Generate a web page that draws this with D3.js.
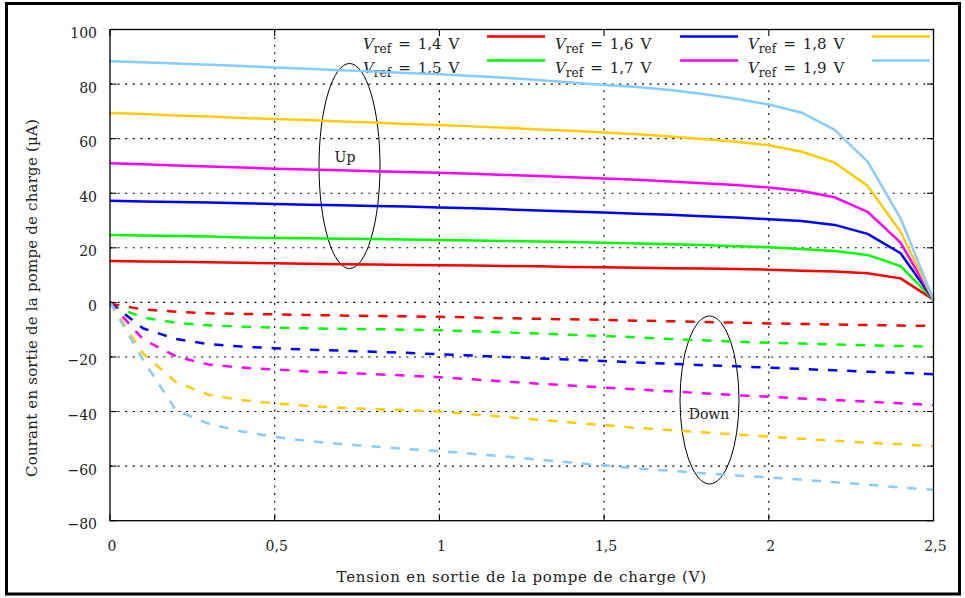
<!DOCTYPE html>
<html><head><meta charset="utf-8">
<script src="https://cdn.jsdelivr.net/npm/d3@7"></script>
<style>
html,body{margin:0;padding:0;background:#fff;}
svg text{font-family:"DejaVu Serif",serif;fill:#222;}
</style></head>
<body>
<svg id="c" width="965" height="598"></svg>
<script>
// ---- data ----
const xValues = d3.range(0, 26).map(i => +(i * 0.1).toFixed(1));
const vrefLabels = ["1,4", "1,5", "1,6", "1,7", "1,8", "1,9"];
const colors = ["#ff0000", "#00ff00", "#0000ff", "#ff00ff", "#ffcc00", "#88ccff"];

const up14 = [15.2,15.0,14.9,14.7,14.5,14.3,14.2,14.0,13.9,13.7,13.6,13.5,13.3,13.2,13.0,12.9,12.7,12.5,12.4,12.2,12.0,11.6,11.3,10.7,8.8,1];
const up15 = [24.7,24.5,24.3,24.1,23.8,23.6,23.5,23.3,23.2,23.0,22.9,22.7,22.5,22.3,22.1,21.9,21.6,21.3,21.0,20.6,20.2,19.6,18.8,17.4,13.3,1];
const up16 = [37.2,37.0,36.8,36.6,36.3,36.1,35.8,35.6,35.3,35.1,34.8,34.5,34.1,33.7,33.3,32.9,32.5,32.1,31.6,31.1,30.5,29.8,28.4,25.1,18.0,1];
const up17 = [51.0,50.6,50.2,49.8,49.4,49.0,48.7,48.4,48.1,47.8,47.5,47.1,46.7,46.3,45.9,45.4,44.9,44.3,43.7,43.0,42.1,40.8,38.5,33.2,21.9,1];
const up18 = [69.4,69.0,68.5,68.1,67.6,67.2,66.8,66.3,65.9,65.4,65.0,64.5,64.0,63.4,62.9,62.3,61.6,60.8,59.9,58.9,57.6,55.2,51.2,42.7,25.9,1];
const up19 = [88.4,88.0,87.5,87.1,86.6,86.1,85.6,85.1,84.6,84.1,83.6,83.0,82.3,81.5,80.6,79.7,78.9,77.8,76.4,74.6,72.5,69.5,63.2,51.6,30.8,1];

const down14 = [-0.5,-2.6,-3.4,-4.0,-4.2,-4.4,-4.6,-4.8,-5.0,-5.1,-5.3,-5.5,-5.8,-6.0,-6.2,-6.4,-6.7,-6.9,-7.2,-7.4,-7.7,-7.9,-8.1,-8.3,-8.5,-8.6];
const down15 = [-1.0,-5.5,-7.5,-8.4,-8.9,-9.3,-9.5,-9.7,-9.8,-10.0,-10.2,-10.6,-11.0,-11.4,-11.9,-12.3,-12.8,-13.4,-13.9,-14.4,-14.8,-15.1,-15.4,-15.7,-16.0,-16.3];
const down16 = [0,-9.5,-13.4,-15.3,-16.2,-16.8,-17.3,-17.7,-18.1,-18.5,-19.0,-19.5,-20.0,-20.5,-21.0,-21.5,-22.0,-22.5,-23.0,-23.4,-23.9,-24.4,-24.9,-25.4,-25.8,-26.3];
const down17 = [0,-13.5,-19.8,-22.8,-23.9,-24.6,-25.3,-25.8,-26.3,-26.8,-27.4,-28.2,-29.0,-29.8,-30.5,-31.2,-31.9,-32.6,-33.3,-34.0,-34.6,-35.2,-35.8,-36.4,-37.0,-37.6];
const down18 = [0,-18.7,-29.2,-33.9,-35.8,-37.0,-38.0,-38.6,-39.1,-39.5,-40.0,-41.0,-42.0,-43.0,-44.0,-45.0,-46.0,-46.8,-47.6,-48.4,-49.2,-50.0,-50.7,-51.4,-52.0,-52.7];
const down19 = [0,-21.0,-39.5,-44.5,-47.3,-49.3,-50.8,-51.9,-52.8,-53.7,-54.5,-55.5,-56.5,-57.6,-58.7,-59.8,-60.8,-61.7,-62.6,-63.4,-64.1,-65.0,-65.9,-66.8,-67.8,-68.7];

const upSeries = [up14, up15, up16, up17, up18, up19];
const downSeries = [down14, down15, down16, down17, down18, down19];

const xTicks = [0, 0.5, 1, 1.5, 2, 2.5];
const xTickLabels = ["0", "0,5", "1", "1,5", "2", "2,5"];
const yTicks = [-80, -60, -40, -20, 0, 20, 40, 60, 80, 100];
const yTickLabels = ["−80", "−60", "−40", "−20", "0", "20", "40", "60", "80", "100"];

// ---- layout ----
const svg = d3.select("#c");
const L = 110, R = 933.5, T = 29.5, B = 520.7;
const x = d3.scaleLinear().domain([0, 2.5]).range([L, R]);
const y = d3.scaleLinear().domain([-80, 100]).range([B, T]);

// outer frame
svg.append("rect").attr("x", 6.5).attr("y", 3.5).attr("width", 953).attr("height", 590.5)
  .attr("fill", "none").attr("stroke", "#000").attr("stroke-width", 3);

// grid
const grid = svg.append("g").attr("stroke", "#000").attr("stroke-width", 1.1).attr("stroke-dasharray", "2,5.6");
grid.selectAll("line.h").data(yTicks.filter(v => v > -80 && v < 100)).join("line")
  .attr("x1", L).attr("x2", R).attr("y1", d => y(d)).attr("y2", d => y(d));
grid.selectAll("line.v").data(xTicks.filter(v => v > 0 && v < 2.5)).join("line").attr("class","v")
  .attr("y1", T).attr("y2", B).attr("x1", d => x(d)).attr("x2", d => x(d));

// legend background
svg.append("rect").attr("x", 355).attr("y", T + 0.8).attr("width", R - 355 - 0.8).attr("height", 81 - T - 0.8).attr("fill", "#fff");

// legend
const legendCols = [[363, 487], [555, 680], [748, 872]];
const legendRows = [[49, 36.5], [73, 60.5]];
vrefLabels.forEach((lab, i) => {
  const col = legendCols[Math.floor(i / 2)], row = legendRows[i % 2];
  const t = svg.append("text").attr("x", col[0]).attr("y", row[0]).style("font-size", "15px");
  t.append("tspan").text("V").style("font-style", "italic");
  t.append("tspan").text("ref").attr("dy", 3.5).style("font-size", "12px");
  t.append("tspan").text("=").attr("dy", -3.5).attr("dx", 7);
  t.append("tspan").text(lab).attr("dx", 7);
  t.append("tspan").text("V").attr("dx", 7);
  svg.append("line").attr("x1", col[1]).attr("x2", col[1] + 58).attr("y1", row[1]).attr("y2", row[1])
    .attr("stroke", colors[i]).attr("stroke-width", 2.6);
});

// ellipses
svg.append("ellipse").attr("cx", 349.5).attr("cy", 166).attr("rx", 30.5).attr("ry", 102.5)
  .attr("fill", "none").attr("stroke", "#000").attr("stroke-width", 1);
svg.append("text").attr("x", 345).attr("y", 162).attr("text-anchor", "middle").style("font-size", "14px").text("Up");
svg.append("ellipse").attr("cx", 709.5).attr("cy", 400).attr("rx", 29.5).attr("ry", 84)
  .attr("fill", "none").attr("stroke", "#000").attr("stroke-width", 1);
svg.append("text").attr("x", 709).attr("y", 419).attr("text-anchor", "middle").style("font-size", "14px").text("Down");

// curves
const line = d3.line().x((d, i) => x(xValues[i])).y(d => y(d));
upSeries.forEach((s, i) => {
  svg.append("path").attr("d", line(s)).attr("fill", "none").attr("stroke", colors[i])
    .attr("stroke-width", 2.5).attr("stroke-linejoin", "round");
});
downSeries.forEach((s, i) => {
  svg.append("path").attr("d", line(s)).attr("fill", "none").attr("stroke", colors[i])
    .attr("stroke-width", 2.5).attr("stroke-dasharray", "9.3,9.9");
});

// axes frame and ticks
svg.append("rect").attr("x", L).attr("y", T).attr("width", R - L).attr("height", B - T)
  .attr("fill", "none").attr("stroke", "#000").attr("stroke-width", 1.3);
const ticks = svg.append("g").attr("stroke", "#000").attr("stroke-width", 1.1);
yTicks.forEach(v => {
  ticks.append("line").attr("x1", L).attr("x2", L + 6.5).attr("y1", y(v)).attr("y2", y(v));
  ticks.append("line").attr("x1", R).attr("x2", R - 6.5).attr("y1", y(v)).attr("y2", y(v));
});
xTicks.forEach(v => {
  ticks.append("line").attr("y1", B).attr("y2", B - 6.5).attr("x1", x(v)).attr("x2", x(v));
  ticks.append("line").attr("y1", T).attr("y2", T + 6.5).attr("x1", x(v)).attr("x2", x(v));
});

// tick labels
svg.append("g").selectAll("text").data(yTicks).join("text")
  .attr("x", 97).attr("y", d => y(d) + 8.5).attr("text-anchor", "end").style("font-size", "14px")
  .text((d, i) => yTickLabels[i]);
svg.append("g").selectAll("text").data(xTicks).join("text")
  .attr("x", d => x(d) + 2).attr("y", 551).attr("text-anchor", "middle").style("font-size", "14px")
  .text((d, i) => xTickLabels[i]);

// axis titles
svg.append("text").attr("x", (L + R) / 2).attr("y", 582).attr("text-anchor", "middle")
  .style("font-size", "15px").style("letter-spacing", "0.8px")
  .text("Tension en sortie de la pompe de charge (V)");
svg.append("text").attr("transform", "translate(37,298) rotate(-90)").attr("text-anchor", "middle")
  .style("font-size", "15px").style("letter-spacing", "0.2px")
  .text("Courant en sortie de la pompe de charge (µA)");
</script>
</body></html>
